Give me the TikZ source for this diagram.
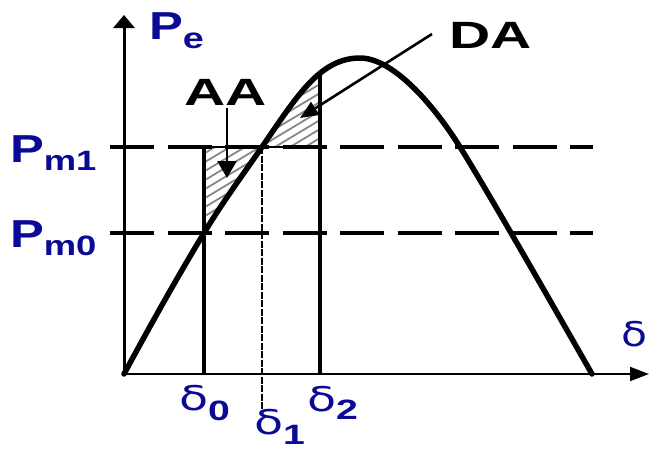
\documentclass[tikz,border=0pt]{standalone}
\usepackage{fontspec}
\setmainfont{Liberation Sans}
\newfontfamily\dfont{DejaVu Sans}
\usetikzlibrary{arrows.meta}
\definecolor{lblue}{RGB}{10,10,150}
\definecolor{hatchgray}{RGB}{135,135,135}
\begin{document}
\begin{tikzpicture}[x=1pt,y=-1pt,
  curve/.style={line width=5.5pt, line join=round, line cap=round},
  vaxis/.style={line width=3pt},
  haxis/.style={line width=2pt},
  vline/.style={line width=3.8pt},
  pmone/.style={line width=3.6pt, dash pattern=on 44pt off 13.5pt},
  pmzero/.style={line width=4.4pt, dash pattern=on 44pt off 13.5pt},
  thinh/.style={line width=2pt},
  dline/.style={line width=1.8pt, dash pattern=on 7pt off 1.5pt},
  hatch/.style={line width=1.8pt, hatchgray},
  pointer/.style={line width=2.6pt},
  lbl/.style={inner sep=0pt, outer sep=0pt, anchor=base west, text=lblue, font=\bfseries},
  dsym/.style={inner sep=0pt, outer sep=0pt, anchor=base west, text=lblue, font=\mdseries},
  big/.style={inner sep=0pt, outer sep=0pt, anchor=base west, text=black, font=\bfseries\fontsize{38}{38}\selectfont, xscale=1.5}
]
\useasboundingbox (0,0) rectangle (649,450);

% coordinates
\coordinate (O) at (124,374);
\coordinate (ytip) at (124,15);
\coordinate (xtip) at (649,374);
\coordinate (m1l) at (110,147);
\coordinate (m1r) at (593,147);
\coordinate (m0l) at (110,233);
\coordinate (m0r) at (593,233);
\coordinate (d0b) at (204,374);
\coordinate (d0t) at (204,147);
\coordinate (d0m) at (204,233);
\coordinate (d1t) at (262,147);
\coordinate (d1b) at (262,410);
\coordinate (d2b) at (320,374);
\coordinate (d2m) at (320,147);
\coordinate (d2t) at (320,73);
\coordinate (pk) at (360,58);
\coordinate (r1) at (460,147);
\coordinate (E) at (592,374);
\coordinate (aas) at (227,108);
\coordinate (aae) at (227,178);
\coordinate (das) at (432,34);
\coordinate (dae) at (300,118);

% hatched areas
\begin{scope}
  \clip (d0m) -- (d0t) -- (d1t) .. controls (243,174.5) and (223,201.6) .. (d0m) -- cycle;
  \foreach \c in {60,69,...,420} \draw[hatch] (180,\c) -- (360,\c-108);
\end{scope}
\begin{scope}
  \clip (250,40) rectangle (320,147);
  \clip (d1t) .. controls (297,96) and (320,58) .. (pk) -- (360,147) -- cycle;
  \foreach \c in {60,69,...,420} \draw[hatch] (180,\c) -- (360,\c-108);
\end{scope}

% power levels
\draw[pmone] (m1l) -- (m1r);
\draw[pmzero] (m0l) -- (m0r);
\draw[thinh] (d0t) -- (d2m);

% vertical markers
\draw[vline] (d0b) -- (d0t);
\draw[vline] (d2b) -- (d2t);
\draw[dline] (d1t) -- (d1b);

% power-angle curve
\draw[curve] (O) .. controls (150,326) and (177,277.5) .. (d0m)
  .. controls (223,201.6) and (243,174.5) .. (d1t)
  .. controls (297,96) and (320,58) .. (pk)
  .. controls (395,58) and (437,110) .. (r1)
  .. controls (490,195) and (562,321.5) .. (E);

% axes
\draw[vaxis, -{Triangle[length=13pt,width=21pt]}] (O) -- (ytip);
\draw[haxis, -{Triangle[length=19pt,width=14pt]}] (O) -- (xtip);

% pointers
\draw[pointer, -{Triangle[length=17pt,width=19pt]}] (aas) -- (aae);
\draw[pointer, -{Triangle[length=18pt,width=15pt]}] (das) -- (dae);

% labels
\node[big] (aa) at (184,105) {AA};
\node[big] (da) at (449,48) {DA};

\node[lbl, xscale=1.3] (pe) at (149,39) {\fontsize{39}{39}\selectfont P\raisebox{-9pt}{\fontsize{29}{29}\selectfont e}};
\node[lbl, xscale=1.3] (pm1) at (10,162) {\fontsize{39}{39}\selectfont P\raisebox{-8pt}{\fontsize{28}{28}\selectfont m1}};
\node[lbl, xscale=1.3] (pm0) at (10,247) {\fontsize{39}{39}\selectfont P\raisebox{-8pt}{\fontsize{28}{28}\selectfont m0}};

\node[dsym, xscale=1.25] (dx) at (621,346) {\dfont\fontsize{34}{34}\selectfont δ};
\node[dsym, xscale=1.4] (dl0) at (179,410) {{\dfont\fontsize{34}{34}\selectfont δ}\raisebox{-10pt}{\bfseries\fontsize{28}{28}\selectfont 0}};
\node[dsym, xscale=1.4] (dl1) at (254,434) {{\dfont\fontsize{34}{34}\selectfont δ}\raisebox{-10pt}{\bfseries\fontsize{28}{28}\selectfont 1}};
\node[dsym, xscale=1.4] (dl2) at (307,411) {{\dfont\fontsize{34}{34}\selectfont δ}\raisebox{-8pt}{\bfseries\fontsize{28}{28}\selectfont 2}};
\end{tikzpicture}
\end{document}
